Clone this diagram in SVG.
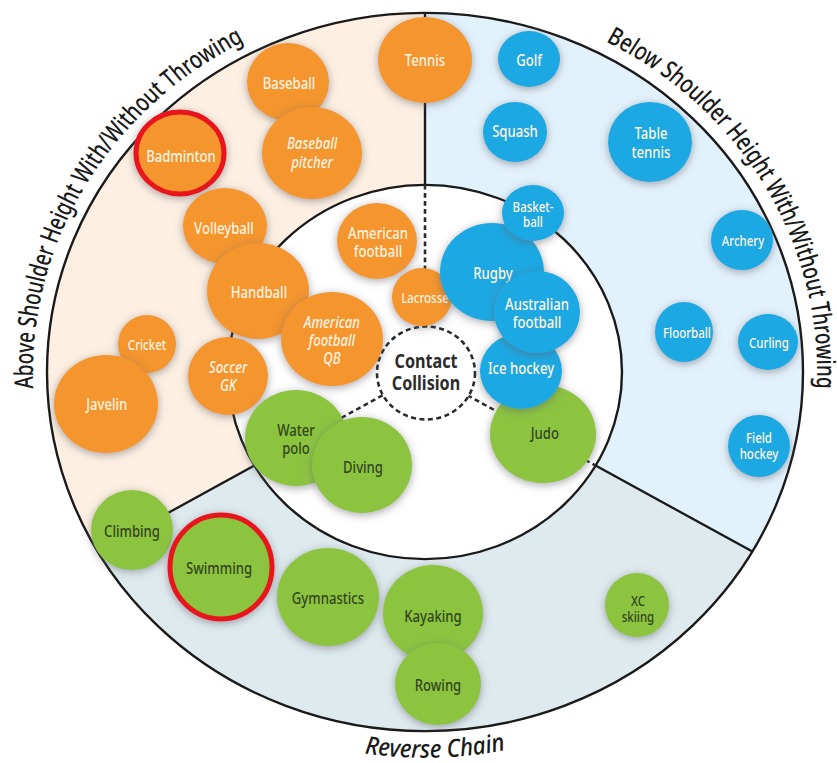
<svg xmlns="http://www.w3.org/2000/svg" width="837" height="763" viewBox="0 0 837 763">
<style>
.ring{fill:none;stroke:#1a1a1a;stroke-width:2.4}
.div{stroke:#1a1a1a;stroke-width:2.4;fill:none}
.dash{stroke:#2a2a2a;stroke-width:2.6;fill:none;stroke-dasharray:5 3.5}
.arc{font-family:"Noto Sans","Liberation Sans",sans-serif;font-weight:500;font-size:26px;fill:#1a1a1a}
.o{fill:#F4952F}
.b{fill:#1DA8E2}
.g{fill:#8CC43F}
.bub{filter:url(#sh)}
.red{stroke:#E8141B;stroke-width:5}
.t{font-family:"Noto Sans","Liberation Sans",sans-serif;font-weight:500;font-size:16px;text-anchor:middle;transform-box:fill-box;transform-origin:center;transform:scaleX(0.82)}
.tw{fill:#FFF3E0}
.tg{fill:#33461F}
.it{font-style:italic}
.sm{font-size:14px}
.cc{font-family:"Noto Sans","Liberation Sans",sans-serif;font-size:19px;font-weight:bold;text-anchor:middle;fill:#2b2b2b;transform-box:fill-box;transform-origin:center;transform:scaleX(0.85)}
</style>
<defs>
<filter id="sh" x="-30%" y="-30%" width="160%" height="160%">
<feDropShadow dx="0" dy="2" stdDeviation="4" flood-color="#5f5f6a" flood-opacity="0.55"/>
</filter>
<path id="pl" d="M -368.4,134.1 A 392 392 0 0 1 -68.1,-386"/>
<path id="pr" d="M 68.1,-386 A 392 392 0 0 1 368.4,134.1"/>
<path id="pb" d="M -406,0 A 406 406 0 0 0 406,0"/>
</defs>
<rect width="837" height="763" fill="#ffffff"/>
<g id="rings" transform="translate(425,372) scale(1,0.95)">
<path id="sector-above" d="M -327.4,189 A 378 378 0 0 1 0,-378 L 0,-197 A 197 197 0 0 0 -170.6,98.5 Z" fill="#FDF0E2"/>
<path id="sector-below" d="M 0,-378 A 378 378 0 0 1 327.4,189 L 170.6,98.5 A 197 197 0 0 0 0,-197 Z" fill="#E2F2FC"/>
<path id="sector-reverse" d="M 327.4,189 A 378 378 0 0 1 -327.4,189 L -170.6,98.5 A 197 197 0 0 0 170.6,98.5 Z" fill="#DEEAEE"/>
<circle cx="0" cy="0" r="197" fill="#ffffff"/>
<circle class="ring" cx="0" cy="0" r="378"/>
<circle class="ring" cx="0" cy="0" r="197"/>
<text class="arc"><textPath href="#pl" startOffset="50%" text-anchor="middle" textLength="445" lengthAdjust="spacingAndGlyphs">Above Shoulder Height With/Without Throwing</textPath></text>
<text class="arc"><textPath href="#pr" startOffset="50%" text-anchor="middle" textLength="445" lengthAdjust="spacingAndGlyphs">Below Shoulder Height With/Without Throwing</textPath></text>
<text class="arc" font-style="italic"><textPath href="#pb" startOffset="50.8%" text-anchor="middle" textLength="142" lengthAdjust="spacingAndGlyphs">Reverse Chain</textPath></text>
</g>
<g id="connectors" transform="translate(425,372) scale(1,0.95)">
<line class="div" x1="0" y1="-378" x2="0" y2="-197"/>
<line class="div" x1="-327.4" y1="189" x2="-170.6" y2="98.5"/>
<line class="div" x1="327.4" y1="189" x2="170.6" y2="98.5"/>
<line class="dash" x1="0" y1="-197" x2="0" y2="-49"/>
<line class="dash" x1="-42.4" y1="24.5" x2="-170.6" y2="98.5"/>
<line class="dash" x1="42.4" y1="24.5" x2="170.6" y2="98.5"/>
</g>
<g id="contact-collision">
<ellipse cx="426" cy="373" rx="49" ry="46.5" fill="#ffffff" stroke="#2a2a2a" stroke-width="2.6" stroke-dasharray="5 3.5"/>
<text class="cc" x="426" y="368">Contact</text>
<text class="cc" x="426" y="390">Collision</text>
</g>
<g id="baseball"><ellipse class="o bub" cx="288" cy="82" rx="41" ry="39"/><text class="t tw" x="289" y="89">Baseball</text></g>
<g id="tennis"><ellipse class="o bub" cx="425" cy="60" rx="47" ry="43"/><text class="t tw" x="425" y="66">Tennis</text></g>
<g id="baseball-pitcher"><ellipse class="o bub" cx="312" cy="153" rx="50" ry="46"/><text class="t tw it" x="312" y="149">Baseball</text><text class="t tw it" x="312" y="168">pitcher</text></g>
<g id="badminton"><ellipse class="o bub red" cx="180" cy="153" rx="44" ry="41"/><text class="t tw" x="181" y="162">Badminton</text></g>
<g id="volleyball"><ellipse class="o bub" cx="225" cy="226" rx="42" ry="38"/><text class="t tw" x="224" y="234">Volleyball</text></g>
<g id="american-football"><ellipse class="o bub" cx="377" cy="241" rx="40" ry="38"/><text class="t tw" x="378" y="239">American</text><text class="t tw" x="378" y="257">football</text></g>
<g id="handball"><ellipse class="o bub" cx="258" cy="291" rx="51" ry="48"/><text class="t tw" x="259" y="298">Handball</text></g>
<g id="soccer-gk"><ellipse class="o bub" cx="228" cy="376" rx="40" ry="39"/><text class="t tw it" x="228" y="373">Soccer</text><text class="t tw it" x="228" y="391">GK</text></g>
<g id="american-football-qb"><ellipse class="o bub" cx="332" cy="339" rx="51" ry="47"/><text class="t tw it" x="332" y="328">American</text><text class="t tw it" x="332" y="346">football</text><text class="t tw it" x="332" y="364">QB</text></g>
<g id="cricket"><ellipse class="o bub" cx="147" cy="344" rx="29" ry="29"/><text class="t tw sm" x="147" y="350">Cricket</text></g>
<g id="javelin"><ellipse class="o bub" cx="106" cy="404" rx="52" ry="49"/><text class="t tw" x="107" y="410">Javelin</text></g>
<g id="lacrosse"><ellipse class="o bub" cx="422" cy="297" rx="30" ry="29"/><text class="t tw sm" x="425" y="303">Lacrosse</text></g>
<g id="golf"><ellipse class="b bub" cx="529" cy="59" rx="31" ry="28"/><text class="t tw" x="529" y="66">Golf</text></g>
<g id="squash"><ellipse class="b bub" cx="515" cy="132" rx="32" ry="30"/><text class="t tw" x="515" y="137">Squash</text></g>
<g id="table-tennis"><ellipse class="b bub" cx="650" cy="142" rx="42" ry="40"/><text class="t tw" x="651" y="139">Table</text><text class="t tw" x="651" y="158">tennis</text></g>
<g id="judo"><ellipse class="g bub" cx="543" cy="434" rx="53" ry="49"/><text class="t tg" x="545" y="439">Judo</text></g>
<g id="rugby"><ellipse class="b bub" cx="492" cy="272" rx="52" ry="49"/><text class="t tw" x="493" y="279">Rugby</text></g>
<g id="basketball"><ellipse class="b bub" cx="533" cy="213" rx="31" ry="28"/><text class="t tw sm" x="533" y="212">Basket-</text><text class="t tw sm" x="533" y="227">ball</text></g>
<g id="ice-hockey"><ellipse class="b bub" cx="521" cy="371" rx="41" ry="38"/><text class="t tw" x="521" y="374">Ice hockey</text></g>
<g id="australian-football"><ellipse class="b bub" cx="537" cy="312" rx="43" ry="41"/><text class="t tw" x="537" y="310">Australian</text><text class="t tw" x="537" y="328">football</text></g>
<g id="archery"><ellipse class="b bub" cx="742" cy="240" rx="31" ry="30"/><text class="t tw sm" x="743" y="246">Archery</text></g>
<g id="floorball"><ellipse class="b bub" cx="684" cy="332" rx="29" ry="30"/><text class="t tw sm" x="687" y="338">Floorball</text></g>
<g id="curling"><ellipse class="b bub" cx="768" cy="342" rx="30" ry="28"/><text class="t tw sm" x="769" y="348">Curling</text></g>
<g id="field-hockey"><ellipse class="b bub" cx="759" cy="446" rx="31" ry="31"/><text class="t tw sm" x="759" y="443">Field</text><text class="t tw sm" x="759" y="459">hockey</text></g>
<g id="water-polo"><ellipse class="g bub" cx="296" cy="438" rx="51" ry="48"/><text class="t tg" x="296" y="436">Water</text><text class="t tg" x="296" y="454">polo</text></g>
<g id="diving"><ellipse class="g bub" cx="362" cy="465" rx="50" ry="48"/><text class="t tg" x="363" y="473">Diving</text></g>
<g id="climbing"><ellipse class="g bub" cx="132" cy="530" rx="41" ry="40"/><text class="t tg" x="132" y="537">Climbing</text></g>
<g id="swimming"><ellipse class="g bub red" cx="221" cy="567" rx="51" ry="52"/><text class="t tg" x="219" y="574">Swimming</text></g>
<g id="gymnastics"><ellipse class="g bub" cx="328" cy="597" rx="51" ry="49"/><text class="t tg" x="328" y="604">Gymnastics</text></g>
<g id="kayaking"><ellipse class="g bub" cx="433" cy="613" rx="50" ry="48"/><text class="t tg" x="433" y="622">Kayaking</text></g>
<g id="rowing"><ellipse class="g bub" cx="438" cy="684" rx="43" ry="41"/><text class="t tg" x="438" y="691">Rowing</text></g>
<g id="xc-skiing"><ellipse class="g bub" cx="637" cy="605" rx="32" ry="32"/><text class="t tg sm" x="638" y="606">XC</text><text class="t tg sm" x="638" y="622">skiing</text></g>
</svg>
